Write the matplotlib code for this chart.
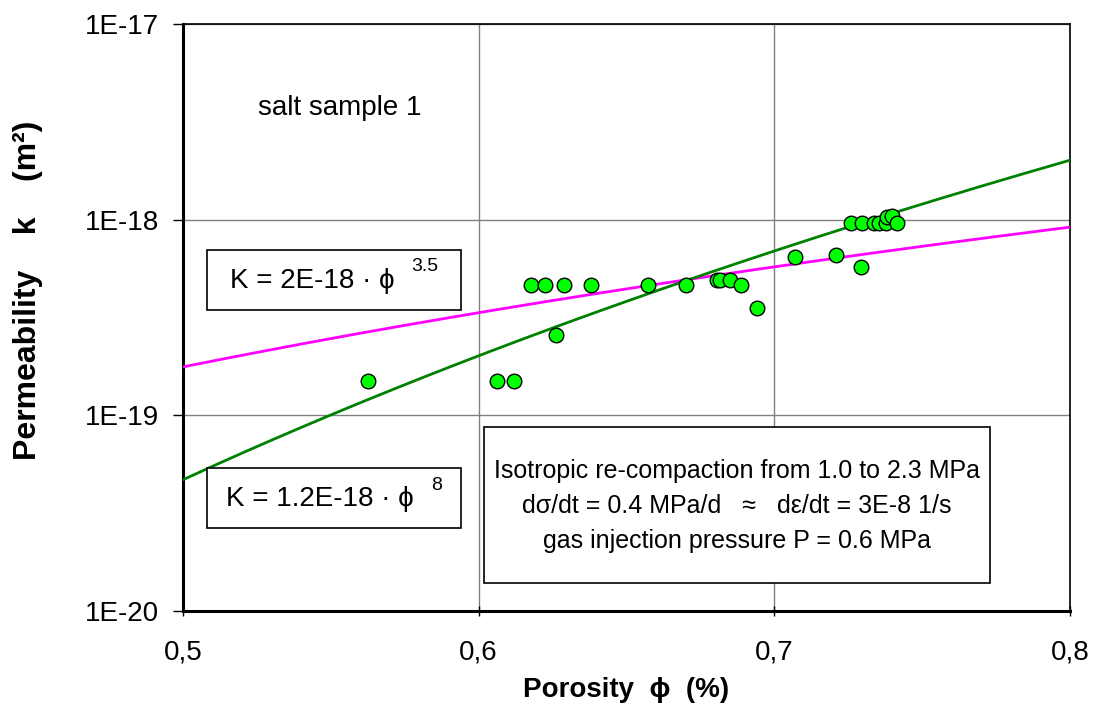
import matplotlib
matplotlib.use("Agg")
import matplotlib.pyplot as plt
import numpy as np
from matplotlib.patches import Rectangle

plt.rcParams['font.family'] = ['Liberation Sans', 'DejaVu Sans']

# ---- data ----
porosity = [0.5626, 0.6062, 0.6120, 0.6262, 0.6177, 0.6224, 0.6289, 0.6380,
            0.6573, 0.6701, 0.6806, 0.6816, 0.6850, 0.6887, 0.6941, 0.7070,
            0.7209, 0.7293, 0.7258, 0.7298, 0.7337, 0.7354, 0.7378, 0.7382,
            0.7397, 0.7416]
permeability = [1.50e-19, 1.50e-19, 1.50e-19, 2.57e-19, 4.64e-19, 4.64e-19,
                4.64e-19, 4.64e-19, 4.64e-19, 4.64e-19, 4.92e-19, 4.92e-19,
                4.92e-19, 4.64e-19, 3.54e-19, 6.45e-19, 6.60e-19, 5.73e-19,
                9.65e-19, 9.65e-19, 9.65e-19, 9.65e-19, 9.65e-19, 1.03e-18,
                1.05e-18, 9.65e-19]
fit1_coef, fit1_exp = 2e-18, 3.5     # magenta
fit2_coef, fit2_exp = 1.2e-17, 8.0   # green (curve as drawn)
xticks = [0.5, 0.6, 0.7, 0.8]
xticklabels = ['0,5', '0,6', '0,7', '0,8']
yticks = [1e-20, 1e-19, 1e-18, 1e-17]
yticklabels = ['1E-20', '1E-19', '1E-18', '1E-17']

W, H = 1095, 709
fig = plt.figure(figsize=(W / 100, H / 100), dpi=100)
L, R, T, B = 183, 1070, 24, 611
ax = fig.add_axes([L / W, 1 - B / H, (R - L) / W, (B - T) / H])

def px(x, y):
    return x / W, 1 - y / H

xs = np.linspace(0.5, 0.8, 300)
ax.plot(xs, fit1_coef * xs ** fit1_exp, color='#FF00FF', lw=2.0, zorder=3)
ax.plot(xs, fit2_coef * xs ** fit2_exp, color='#008000', lw=2.0, zorder=3)
ax.scatter(porosity, permeability, s=110, color='#00FF00', edgecolors='black',
           linewidths=1.0, zorder=4)

ax.set_yscale('log')
ax.set_xlim(0.5, 0.8)
ax.set_ylim(1e-20, 1e-17)
ax.set_xticks(xticks)
ax.set_xticklabels(xticklabels)
ax.set_yticks(yticks)
ax.set_yticklabels(yticklabels)
ax.yaxis.set_minor_locator(matplotlib.ticker.NullLocator())
ax.tick_params(axis='both', labelsize=20, color='black', width=1, length=7)
ax.tick_params(axis='x', direction='inout', pad=17)
ax.tick_params(axis='y', direction='out', pad=10)
ax.grid(True, color='#808080', lw=1.0)
ax.set_axisbelow(True)
for s in ['left', 'bottom']:
    ax.spines[s].set_linewidth(2.2)
for s in ['top', 'right']:
    ax.spines[s].set_linewidth(1.2)
    ax.spines[s].set_color('black')

ax.set_xlabel('Porosity  \u03d5  (%)', fontsize=20, fontweight='bold', labelpad=8)
ax.set_ylabel('Permeability    k    (m\u00b2)', fontsize=23, fontweight='bold', va='center')
ax.yaxis.set_label_coords((28 - L) / (R - L), 1 - (290 - T) / (B - T))

# annotation texts
fig.text(*px(340, 108), 'salt sample 1', fontsize=20, ha='center', va='center')

def box(x0, y0, x1, y1):
    fx0, fy1 = px(x0, y0)
    fx1, fy0 = px(x1, y1)
    fig.patches.append(Rectangle((fx0, fy0), fx1 - fx0, fy1 - fy0, transform=fig.transFigure,
                                 facecolor='white', edgecolor='black', lw=1.2, zorder=5))

box(207, 250, 461, 310)
fig.text(*px(230, 281), 'K = 2E-18 \u00b7 \u03d5', fontsize=20, ha='left', va='center', zorder=6)
fig.text(*px(411, 266), '3.5', fontsize=14, ha='left', va='center', zorder=6)

box(207, 468, 461, 528)
fig.text(*px(226, 499), 'K = 1.2E-18 \u00b7 \u03d5', fontsize=20, ha='left', va='center', zorder=6)
fig.text(*px(431, 485), '8', fontsize=14, ha='left', va='center', zorder=6)

box(484, 427, 990, 583)
lines = ['Isotropic re-compaction from 1.0 to 2.3 MPa',
         'd\u03c3/dt = 0.4 MPa/d   \u2248   d\u03b5/dt = 3E-8 1/s',
         'gas injection pressure P = 0.6 MPa']
for i, t in enumerate(lines):
    fig.text(*px(737, 471 + 35 * i), t, fontsize=18, ha='center', va='center', zorder=6)

fig.savefig('out.png', dpi=100)
